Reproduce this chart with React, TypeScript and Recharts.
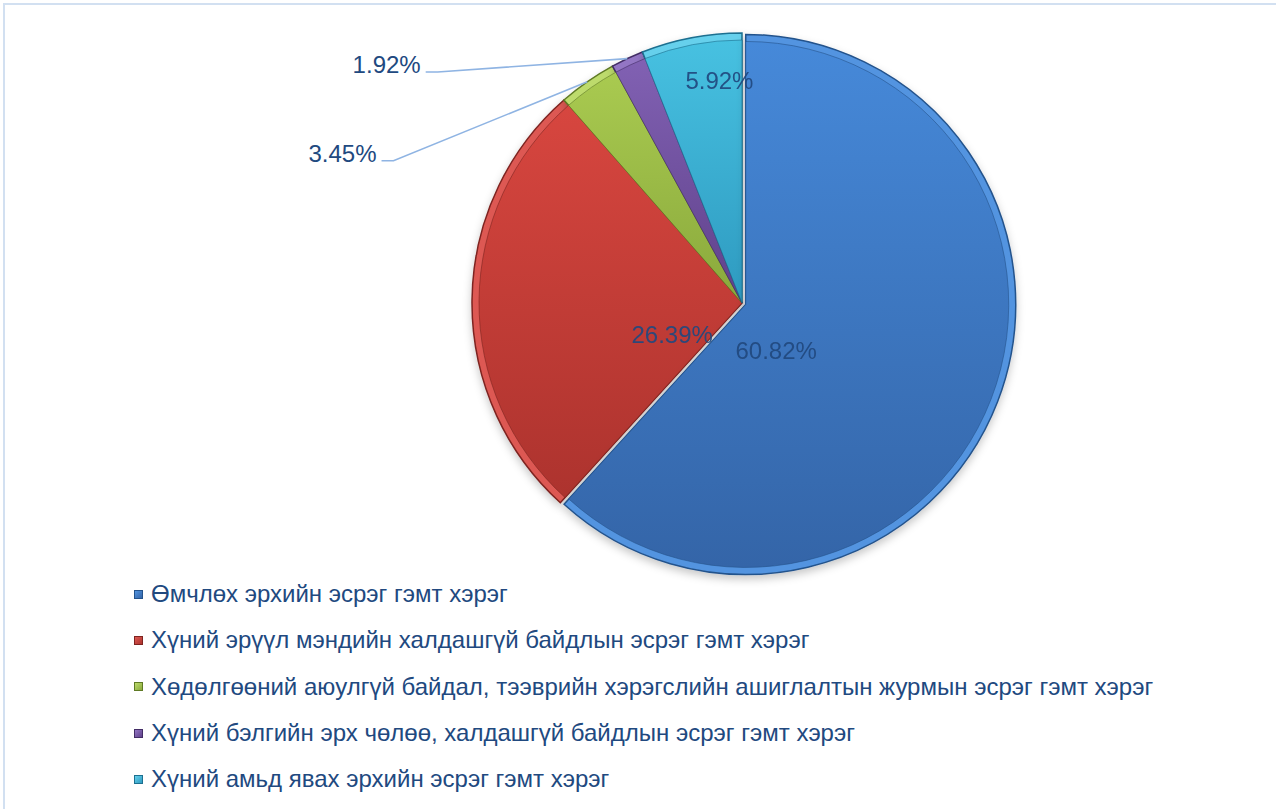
import React from 'react';
import { PieChart, Pie, Cell, Legend } from 'recharts';

// categories, in clockwise order from 12 o'clock
const CATEGORIES = [
  'Өмчлөх эрхийн эсрэг гэмт хэрэг',
  'Хүний эрүүл мэндийн халдашгүй байдлын эсрэг гэмт хэрэг',
  'Хөдөлгөөний аюулгүй байдал, тээврийн хэрэгслийн ашиглалтын журмын эсрэг гэмт хэрэг',
  'Хүний бэлгийн эрх чөлөө, халдашгүй байдлын эсрэг гэмт хэрэг',
  'Хүний амьд явах эрхийн эсрэг гэмт хэрэг',
];
const SHARES = [60.82, 26.39, 3.45, 1.92, 5.92];
const SHARE_LABELS = ['60.82%', '26.39%', '3.45%', '1.92%', '5.92%'];

const data = CATEGORIES.map((name, i) => ({ name, value: SHARES[i] }));

const PALETTE = [
  { top: '#4689D9', bottom: '#3465A8', rim: '#5294E0', edge: '#24538C' },
  { top: '#D7463F', bottom: '#AD332E', rim: '#DD5952', edge: '#7E2420' },
  { top: '#A9CA50', bottom: '#8AA93C', rim: '#BDDB6C', edge: '#5F7A25' },
  { top: '#8161B3', bottom: '#5F418A', rim: '#9376C4', edge: '#432D66' },
  { top: '#47C1E1', bottom: '#2E9AC0', rim: '#66D0EC', edge: '#1D7090' },
];

const W = 1276;
const H = 809;
const CX = 742;
const CY = 303;
const R = 270;
const RIM = 7;
const EXPLODE = 4;
const TEXT = '#21497F';
const FONT = '"Liberation Sans", Arial, sans-serif';
const FONT_SIZE = 24;

// label placement: polar offset from pie centre, angle clockwise from 12 o'clock
const LABEL_LAYOUT = [
  { kind: 'inside', r: 0.218, a: 144.5 },
  { kind: 'inside', r: 0.283, a: 246.0 },
  { kind: 'outside', r: 1.394, a: 292.2 },
  { kind: 'outside', r: 1.415, a: 307.2 },
  { kind: 'inside', r: 0.828, a: 354.2 },
];

const RAD = Math.PI / 180;
const total = SHARES.reduce((s, v) => s + v, 0);
const blueMid = 90 - (360 * SHARES[0]) / total / 2;
const BX = CX + EXPLODE * Math.cos(blueMid * RAD);
const BY = CY - EXPLODE * Math.sin(blueMid * RAD);

const renderLabel = (props: any) => {
  const { index, midAngle, outerRadius, cx, cy } = props;
  const lay = LABEL_LAYOUT[index];
  const px = cx + lay.r * R * Math.sin(lay.a * RAD);
  const py = cy - lay.r * R * Math.cos(lay.a * RAD);
  if (lay.kind === 'inside') {
    return (
      <text key={`l${index}`} x={px} y={py + 8.5} textAnchor="middle" fill={TEXT}
        fontSize={FONT_SIZE} fontFamily={FONT} opacity={0.92}>
        {SHARE_LABELS[index]}
      </text>
    );
  }
  const sx = cx + outerRadius * Math.cos(-midAngle * RAD);
  const sy = cy + outerRadius * Math.sin(-midAngle * RAD);
  return (
    <g key={`l${index}`}>
      <polyline points={`${sx},${sy} ${px},${py} ${px - 12},${py}`} fill="none"
        stroke="#8FB4E3" strokeWidth={1.6} />
      <text x={px - 17} y={py + 1} textAnchor="end" fill={TEXT} fontSize={FONT_SIZE} fontFamily={FONT}>
        {SHARE_LABELS[index]}
      </text>
    </g>
  );
};

const renderLegend = () => (
  <div style={{ fontFamily: FONT, fontSize: FONT_SIZE, color: TEXT }}>
    {CATEGORIES.map((name, i) => (
      <div key={name} style={{ height: 46.3, display: 'flex', alignItems: 'center', whiteSpace: 'nowrap' }}>
        <span style={{
          display: 'inline-block', width: 7, height: 7, marginRight: 8,
          background: `linear-gradient(135deg, ${PALETTE[i].rim}, ${PALETTE[i].bottom})`,
          border: `1px solid ${PALETTE[i].edge}`,
        }} />
        <span>{name}</span>
      </div>
    ))}
  </div>
);

const layer = (key: string, cx: number, cy: number, radius: number, show: (i: number) => boolean, face: boolean) => (
  <Pie key={key} data={data} dataKey="value" nameKey="name" cx={cx} cy={cy} outerRadius={radius}
    startAngle={90} endAngle={-270} isAnimationActive={false} label={false} labelLine={false}
    legendType="none">
    {data.map((d, i) => (
      <Cell key={d.name}
        fill={show(i) ? (face ? `url(#face${i})` : PALETTE[i].rim) : 'none'}
        stroke={show(i) ? PALETTE[i].edge : 'none'}
        strokeWidth={face ? 1 : 1.5}
        strokeOpacity={face ? 0.6 : 1}
        filter={!face && show(i) ? 'url(#pieShadow)' : undefined}
      />
    ))}
  </Pie>
);

export default function App() {
  const others = (i: number) => i !== 0;
  const blue = (i: number) => i === 0;
  return (
    <div style={{ position: 'absolute', left: 0, top: 0, width: W, height: H, overflow: 'hidden', background: '#fff' }}>
      <div style={{
        position: 'absolute', left: 3, top: 3, width: W + 20, height: H + 20,
        border: '2px solid #D2E0F1', boxSizing: 'border-box',
      }} />
      <PieChart width={W} height={H} margin={{ top: 0, right: 0, bottom: 0, left: 0 }}
        style={{ position: 'absolute', left: 0, top: 0 }}>
        <defs>
          {PALETTE.map((p, i) => (
            <linearGradient key={i} id={`face${i}`} x1="0" y1="0" x2="0" y2="1">
              <stop offset="0%" stopColor={p.top} />
              <stop offset="100%" stopColor={p.bottom} />
            </linearGradient>
          ))}
          <filter id="pieShadow" x="-20%" y="-20%" width="140%" height="140%">
            <feDropShadow dx="0" dy="4" stdDeviation="4" floodColor="#000" floodOpacity="0.22" />
          </filter>
        </defs>
        {layer('rimOthers', CX, CY, R, others, false)}
        {layer('faceOthers', CX, CY, R - RIM, others, true)}
        {layer('rimBlue', BX, BY, R, blue, false)}
        {layer('faceBlue', BX, BY, R - RIM, blue, true)}
        <Pie data={data} dataKey="value" nameKey="name" cx={CX} cy={CY} outerRadius={R}
          startAngle={90} endAngle={-270} isAnimationActive={false} fill="none" stroke="none"
          label={renderLabel} labelLine={false} legendType="none" />
        <Legend content={renderLegend} wrapperStyle={{ position: 'absolute', left: 134, top: 571, width: 1100 }} />
      </PieChart>
    </div>
  );
}
